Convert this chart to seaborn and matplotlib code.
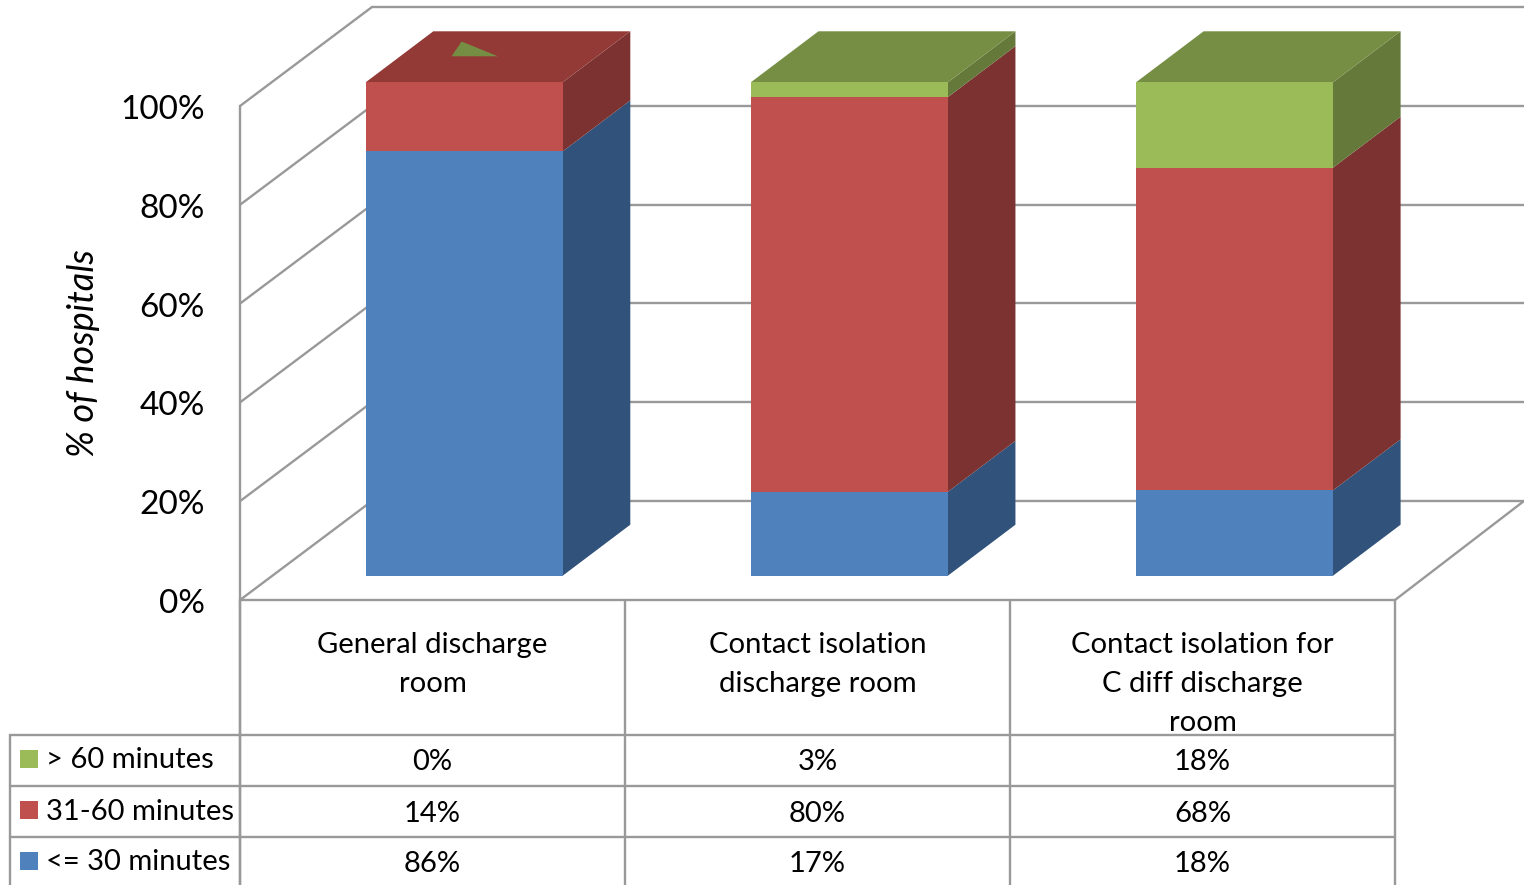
import numpy as np
import pandas as pd
import matplotlib
matplotlib.use('Agg')
import matplotlib.pyplot as plt
from matplotlib.patches import Polygon
import seaborn as sns

categories = ['General discharge\nroom', 'Contact isolation\ndischarge room',
              'Contact isolation for\nC diff discharge\nroom']
series_names = ['<= 30 minutes', '31-60 minutes', '> 60 minutes']
under_30 = [86, 17, 18]
from_31_to_60 = [14, 80, 68]
over_60 = [0, 3, 18]
y_ticks = [0, 20, 40, 60, 80, 100]

front_colors = ['#4F81BD', '#C0504D', '#9BBB59']
side_colors = ['#31527A', '#7B3230', '#64793A']
top_colors = ['#3F6797', '#933A37', '#768E44']
line_col = '#999999'

W, H = 1524, 885
sns.set_theme(style='white')
plt.rcParams['font.family'] = ['Lato', 'DejaVu Sans']

df = pd.DataFrame({'category': categories, series_names[0]: under_30,
                   series_names[1]: from_31_to_60, series_names[2]: over_60})
vals = df[series_names].to_numpy(dtype=float)
# excel normalises the 100% stack, the third column adds up to 104
shares = vals / vals.sum(axis=1, keepdims=True) * 100

fig = plt.figure(figsize=(W / 100, H / 100), dpi=100)

# frame and table live in pixel space
frame = fig.add_axes([0, 0, 1, 1])
frame.set_xlim(0, W)
frame.set_ylim(H, 0)
frame.axis('off')

# walls
for i, t in enumerate(y_ticks):
    y0 = 600 - 98.8 * i
    frame.plot([240, 372], [y0, y0 - 99], color=line_col, lw=1.7, zorder=1)
    frame.plot([372, 1524], [y0 - 99, y0 - 99], color=line_col, lw=1.7, zorder=1)
    frame.text(205, y0 + 4, f'{t}%', ha='right', va='center', fontsize=24, color='black')
frame.plot([240, 240], [106, 885], color=line_col, lw=1.7, zorder=1)
frame.plot([240, 1395, 1524], [600, 600, 501], color=line_col, lw=1.7, zorder=1)
frame.text(83, 353, '% of hospitals', rotation=90, ha='center', va='center',
           fontsize=26, style='italic', color='black')

# data table
col_x = [240, 625, 1010, 1395]
row_y = [735, 786, 837, 888]
for x in col_x:
    frame.plot([x, x], [600, 885], color=line_col, lw=1.7, zorder=1)
for y in row_y[:3]:
    frame.plot([10, 1395], [y, y], color=line_col, lw=1.7, zorder=1)
frame.plot([10, 10], [735, 885], color=line_col, lw=1.7, zorder=1)

for i, name in enumerate(categories):
    xc = (col_x[i] + col_x[i + 1]) / 2
    for j, part in enumerate(name.split('\n')):
        frame.text(xc, 645 + 39 * j, part, ha='center', va='center', fontsize=21.1, color='black')

for r, s in enumerate([2, 1, 0]):
    yc = (row_y[r] + row_y[r + 1]) / 2
    frame.add_patch(plt.Rectangle((20, yc - 10.5), 18, 18, color=front_colors[s], lw=0))
    frame.text(46, yc, series_names[s], ha='left', va='center', fontsize=21, color='black')
    for i in range(3):
        xc = (col_x[i] + col_x[i + 1]) / 2
        frame.text(xc, yc + 2, f'{int(vals[i, s])}%', ha='center', va='center', fontsize=21, color='black')

# bars: axes covers whole figure, x in category units and y in percent
bar_step = 385.15
px_per_pct = 4.934
bar_x0 = 464.2
bar_y0 = 575.7
ax = fig.add_axes([0, 0, 1, 1])
ax.patch.set_alpha(0)
x_lim = (-bar_x0 / bar_step, (W - bar_x0) / bar_step)
y_lim = ((bar_y0 - H) / px_per_pct, bar_y0 / px_per_pct)

bar_w = 197 / bar_step
dx = 67.6 / bar_step
dy = 51 / px_per_pct

# side faces, drawn under the seaborn bars
bottom = np.zeros(3)
for s, name in enumerate(series_names):
    h = shares[:, s]
    for i in range(3):
        if h[i] <= 0:
            continue
        xr = i + bar_w / 2
        b, t = bottom[i], bottom[i] + h[i]
        ax.add_patch(Polygon([(xr, b), (xr + dx, b + dy), (xr + dx, t + dy), (xr, t)],
                             closed=True, fc=side_colors[s], ec='none', zorder=2))
    bottom = bottom + h

# top faces take the colour of the highest non empty segment
top_series = [np.max(np.nonzero(shares[i] > 0)) for i in range(3)]
for i in range(3):
    xl = i - bar_w / 2
    xr = i + bar_w / 2
    ax.add_patch(Polygon([(xl, 100), (xr, 100), (xr + dx, 100 + dy), (xl + dx, 100 + dy)],
                         closed=True, fc=top_colors[top_series[i]], ec='none', zorder=2))

# the zero height green segment still shows as a sliver on the first bar
xl = -bar_w / 2
ax.add_patch(Polygon([(xl + 0.223, 100 + dy * 0.51), (xl + 0.249, 100 + dy * 0.80),
                      (xl + 0.343, 100 + dy * 0.51)],
                     closed=True, fc=top_colors[2], ec='none', zorder=3))

bottom = np.zeros(3)
for s, name in enumerate(series_names):
    part = pd.DataFrame({'pos': [0, 1, 2], 'share': shares[:, s]})
    sns.barplot(data=part, x='pos', y='share', ax=ax, color=front_colors[s], bottom=bottom,
                width=bar_w, native_scale=True, saturation=1, linewidth=0, zorder=3)
    bottom = bottom + shares[:, s]
ax.set_xlim(*x_lim)
ax.set_ylim(*y_lim)
ax.axis('off')

fig.savefig('out.png', dpi=100)
